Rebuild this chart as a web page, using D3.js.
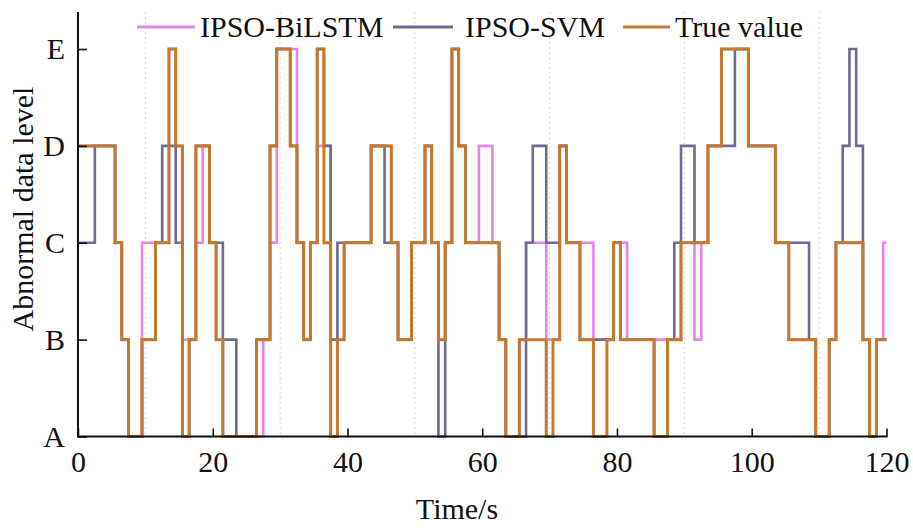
<!DOCTYPE html>
<html>
<head>
<meta charset="utf-8">
<script src="https://cdn.jsdelivr.net/npm/d3@7/dist/d3.min.js"></script>
<style>
  html, body { margin: 0; padding: 0; background: #fff; }
  svg { display: block; }
  text { font-family: "Times New Roman", "Liberation Serif", serif; fill: #111; }
</style>
</head>
<body>
<svg id="chart" width="913" height="528"></svg>
<script>
// Abnormal data level per second (t = 0 … 120)
const levels = ["A", "B", "C", "D", "E"];
const xTicks = [0, 20, 40, 60, 80, 100, 120];
const gridTicks = [10, 30, 50, 70, 90, 110];

const ipsoBiLSTM = [
  "D","D","D","D","D","D","C","B","A","A",
  "C","C","C","C","E","D","B","B","C","D",
  "C","B","A","A","A","A","A","A","B","C",
  "E","E","E","C","B","C","D","D","A","B",
  "C","C","C","C","D","D","D","C","B","B",
  "C","C","D","C","B","C","E","D","C","C",
  "D","D","C","B","A","A","B","C","C","C",
  "B","B","D","C","C","C","C","B","B","B",
  "C","C","B","B","B","B","B","B","B","B",
  "C","C","B","C","D","D","E","E","E","E",
  "D","D","D","D","C","C","B","B","B","B",
  "A","A","B","C","C","C","C","B","A","B",
  "C"
];

const ipsoSVM = [
  "C","C","C","D","D","D","C","B","A","A",
  "B","B","C","D","D","C","A","B","D","D",
  "C","C","B","B","A","A","A","B","B","D",
  "E","E","D","C","B","C","E","D","B","C",
  "C","C","C","C","D","D","C","C","B","B",
  "C","C","D","C","A","C","E","D","C","C",
  "C","C","C","B","A","A","A","C","D","D",
  "C","C","D","C","C","B","B","B","B","B",
  "C","B","B","B","B","B","A","A","B","C",
  "D","D","C","C","D","D","D","D","E","E",
  "D","D","D","D","C","C","C","C","C","B",
  "A","A","B","C","D","E","D","B","A","B",
  "B"
];

const trueValue = [
  "D","D","D","D","D","D","C","B","A","A",
  "B","B","C","C","E","D","A","B","D","D",
  "C","B","A","A","A","A","A","B","B","D",
  "E","E","D","C","B","C","E","C","A","B",
  "C","C","C","C","D","D","D","C","B","B",
  "C","C","D","C","B","C","E","D","C","C",
  "C","C","C","B","A","A","B","B","B","B",
  "A","B","D","C","C","B","B","A","A","B",
  "C","B","B","B","B","B","A","A","B","B",
  "C","C","C","C","D","D","E","E","E","E",
  "D","D","D","D","C","C","B","B","B","B",
  "A","A","B","C","C","C","C","B","A","B",
  "B"
];

const series = [
  { name: "IPSO-BiLSTM", values: ipsoBiLSTM, color: "#e884e6", width: 2.6 },
  { name: "IPSO-SVM",    values: ipsoSVM,    color: "#6c6c92", width: 2.6 },
  { name: "True value",  values: trueValue,  color: "#c47a2a", width: 3 }
];

const svg = d3.select("#chart");

const x = d3.scaleLinear().domain([0, 120]).range([78, 886.5]);
const y = d3.scalePoint().domain(levels).range([436.5, 49]);
const axisTop = 12;

// faint dotted grid
svg.append("g")
  .selectAll("line")
  .data(gridTicks)
  .join("line")
  .attr("x1", d => x(d)).attr("x2", d => x(d))
  .attr("y1", axisTop).attr("y2", y("A"))
  .attr("stroke", "#d8d8d8")
  .attr("stroke-width", 1)
  .attr("stroke-dasharray", "2,3");

// step lines, sampled once per second
const line = d3.line()
  .x((d, i) => x(i))
  .y(d => y(d))
  .curve(d3.curveStep);

svg.append("g")
  .selectAll("path")
  .data(series)
  .join("path")
  .attr("d", d => line(d.values))
  .attr("fill", "none")
  .attr("stroke", d => d.color)
  .attr("stroke-width", d => d.width)
  .attr("stroke-linejoin", "miter");

// axes
const xAxis = d3.axisBottom(x).tickValues(xTicks).tickSize(-8).tickPadding(14);
const gx = svg.append("g").attr("transform", `translate(0,${y("A")})`).call(xAxis);
gx.select(".domain").remove();
gx.selectAll(".tick line").attr("stroke", "#111").attr("stroke-width", 1.6);
gx.selectAll(".tick text").attr("font-size", 30).attr("fill", "#111")
  .style("font-family", "'Times New Roman', 'Liberation Serif', serif");

const yAxis = d3.axisLeft(y).tickSize(-9).tickPadding(13);
const gy = svg.append("g").attr("transform", `translate(${x(0)},0)`).call(yAxis);
gy.select(".domain").remove();
gy.selectAll(".tick line").attr("stroke", "#111").attr("stroke-width", 1.6);
gy.selectAll(".tick text").attr("font-size", 30).attr("fill", "#111")
  .style("font-family", "'Times New Roman', 'Liberation Serif', serif");

svg.append("line")
  .attr("x1", x(0)).attr("x2", x(0))
  .attr("y1", axisTop).attr("y2", y("A") + 1)
  .attr("stroke", "#111").attr("stroke-width", 2);
svg.append("line")
  .attr("x1", x(0) - 1).attr("x2", x(120) + 1)
  .attr("y1", y("A")).attr("y2", y("A"))
  .attr("stroke", "#111").attr("stroke-width", 2);

// axis titles
svg.append("text")
  .attr("x", 457).attr("y", 519)
  .attr("text-anchor", "middle")
  .attr("font-size", 30)
  .text("Time/s");

svg.append("text")
  .attr("transform", "translate(33,209) rotate(-90)")
  .attr("text-anchor", "middle")
  .attr("font-size", 30)
  .text("Abnormal data level");

// legend
const legendItems = [
  { s: series[0], x1: 137, x2: 195, tx: 200 },
  { s: series[1], x1: 393, x2: 453, tx: 465 },
  { s: series[2], x1: 623, x2: 670, tx: 675 }
];
const lg = svg.append("g");
lg.selectAll("line")
  .data(legendItems)
  .join("line")
  .attr("x1", d => d.x1).attr("x2", d => d.x2)
  .attr("y1", 27).attr("y2", 27)
  .attr("stroke", d => d.s.color)
  .attr("stroke-width", 3);
lg.selectAll("text")
  .data(legendItems)
  .join("text")
  .attr("x", d => d.tx).attr("y", 37)
  .attr("font-size", 30)
  .text(d => d.s.name);
</script>
</body>
</html>
